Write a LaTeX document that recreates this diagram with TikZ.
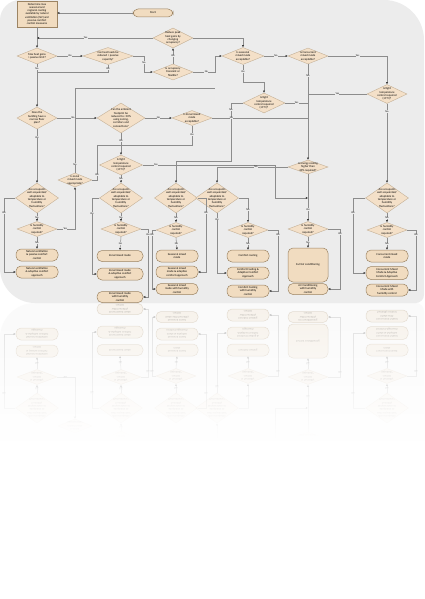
\documentclass[tikz,border=0pt]{standalone}
\usepackage{fontspec}
\setmainfont{Carlito}
\usetikzlibrary{shapes.geometric,arrows.meta,fadings}
\definecolor{bgc}{HTML}{ECECEC}
\definecolor{dfill}{HTML}{F4E0C8}
\definecolor{dbord}{HTML}{C4B096}
\definecolor{tfill}{HTML}{F1DCC0}
\definecolor{tbord}{HTML}{9C8463}
\definecolor{lnc}{HTML}{8C8C8C}
\newcommand\dfont{\fontsize{2.9}{3.3}\selectfont}
\newcommand\lfont{\fontsize{2.6}{3}\selectfont}
\tikzset{
 dia/.style 2 args={shape=diamond, draw=dbord, line width=0.4pt, fill=dfill, minimum width=#1, minimum height=#2, inner sep=-30pt, align=center, font=\dfont},
 term/.style 2 args={shape=rectangle, rounded corners=5pt, draw=tbord, line width=0.5pt, fill=tfill, minimum width=#1, minimum height=#2, inner sep=0pt, align=center, font=\dfont},
 procbox/.style={shape=rectangle, draw=tbord, line width=0.5pt, fill=tfill, minimum width=40, minimum height=26, inner sep=0pt, align=center, font=\dfont},
 conn/.style={draw=lnc, line width=0.55pt},
 arr/.style={conn, -{Latex[length=2.2pt,width=2.2pt,color=black!80]}},
 lab/.style={font=\lfont, fill=bgc, inner sep=0.3pt},
}
\newcommand\occtext{Are occupants\\well acquainted/\\adaptable to\\temperature or\\humidity\\fluctuations?}
\newcommand\tttext{Is tight\\temperature\\control required\\(±1°C)?}
\newcommand\humtext{Is humidity\\control\\required?}
\newcommand\bgshape{%
\fill[bgc] (0,20) .. controls (0,9) and (9,0) .. (20,0) -- (384,0) .. controls (406,0) and (424,18) .. (424,40) -- (424,295) .. controls (424,299.4) and (420,303) .. (416,303) -- (35,303) .. controls (15.75,303) and (0,287.25) .. (0,268) -- cycle;
}
\newcommand\diagbottom{%
\node[dia={34}{14}] (zonapp) at (75,180) {Is zonal\\mixed mode\\appropriate?};
\node[dia={43}{20}] (ttzon) at (121,165) {\tttext};
\node[dia={40}{14}] (energy) at (308,167) {Is energy cooling\\higher than\\40\% required?};
\node[dia={43}{30}] (occA) at (37,198) {\occtext};
\node[dia={43}{30}] (occB) at (121,198) {\occtext};
\node[dia={43}{30}] (occC) at (176,198) {\occtext};
\node[dia={43}{30}] (occD) at (217,198) {\occtext};
\node[dia={43}{30}] (occF) at (387,198) {\occtext};
\node[dia={40}{15}] (humA) at (37,229) {\humtext};
\node[dia={40}{15}] (humB) at (121,229) {\humtext};
\node[dia={40}{15}] (humC) at (176,230) {\humtext};
\node[dia={40}{15}] (humD) at (248,230) {\humtext};
\node[dia={40}{15}] (humE) at (308,229) {\humtext};
\node[dia={40}{15}] (humF) at (387,230) {\humtext};
\node[term={42}{12}] (NVpass) at (37,255) {Natural ventilation\\\& passive comfort\\control};
\node[term={42}{12}] (NVadapt) at (37,272) {Natural ventilation\\\& adaptive comfort\\approach};
\node[term={46}{11}] (zonmm) at (120,256) {Zonal mixed mode};
\node[term={46}{12}] (zonadapt) at (120,274) {Zonal mixed mode\\\& adaptive comfort\\approach};
\node[term={46}{11}] (zonhum) at (120,297) {Zonal mixed mode\\with humidity\\control};
\node[term={42}{12}] (seasmm) at (177,256) {Seasonal mixed\\mode};
\node[term={42}{12}] (seasadapt) at (177,272) {Seasonal mixed\\mode \& adaptive\\comfort approach};
\node[term={42}{11}] (seashum) at (177,289) {Seasonal mixed\\mode with humidity\\control};
\node[term={42}{12}] (comf) at (248,256) {Comfort cooling};
\node[term={42}{12}] (comfadapt) at (248,273) {Comfort Cooling \&\\Adaptive Comfort\\Approach};
\node[term={42}{12}] (comfhum) at (248,291) {Comfort Cooling\\with humidity\\control};
\node[term={40}{34}] (fullac) at (308,265) {Full Air conditioning};
\node[term={40}{11}] (achum) at (308,289) {Air Conditioning\\with humidity\\control};
\node[term={42}{12}] (concmm) at (387,256) {Concurrent mixed\\mode};
\node[term={42}{13}] (concadapt) at (387,273) {Concurrent Mixed\\Mode \& Adaptive\\Comfort Approach};
\node[term={42}{12}] (conchum) at (387,290) {Concurrent Mixed\\Mode with\\humidity control};
\coordinate (c9) at (275,165);
\coordinate (c10) at (275,198);
\coordinate (xA) at (4,0);
\coordinate (xB) at (92,0);
\coordinate (xB2) at (148,0);
\coordinate (xC) at (206,0);
\coordinate (xC2) at (152,0);
\coordinate (xD2) at (278,0);
\coordinate (xE2) at (340,0);
\coordinate (xF) at (353,0);
\coordinate (xF2) at (416,0);
\draw[arr] (humA.east) -- node[lab,pos=0.45]{Yes} (humA.east -| zonapp.south) -- (zonapp.south);
\draw[arr] (ttzon.south) -- node[lab]{No} (occB.north);
\draw[arr] (ttzon.east) -- node[lab,pos=0.1]{Yes} (c9) -- (c10) -- (c10 -| energy.south);
\draw[arr] (energy.west) -- node[lab,pos=0.45]{No} (energy.west -| occD.north) -- (occD.north);
\draw[arr] (energy.south) -- node[lab,pos=0.75]{Yes} (humE.north);
\draw[arr] (occA.west) -- (occA.west -| xA) -- node[lab,pos=0.2]{Yes} (NVadapt.west -| xA) -- (NVadapt.west);
\draw[arr] (occA.south) -- node[lab]{No} (humA.north);
\draw[arr] (humA.south) -- node[lab]{No} (NVpass.north);
\draw[arr] (occB.west) -- (occB.west -| xB) -- node[lab,pos=0.2]{Yes} (zonadapt.west -| xB) -- (zonadapt.west);
\draw[arr] (occB.south) -- node[lab]{No} (humB.north);
\draw[arr] (humB.south) -- node[lab]{No} (zonmm.north);
\draw[arr] (humB.east) -- (humB.east -| xB2) -- node[lab,pos=0.08]{Yes} (zonhum.east -| xB2) -- (zonhum.east);
\draw[arr] (occC.east) -- (occC.east -| xC) -- node[lab,pos=0.2]{Yes} (seasadapt.east -| xC) -- (seasadapt.east);
\draw[arr] (occC.south) -- node[lab]{No} (humC.north);
\draw[arr] (humC.south) -- node[lab]{No} (seasmm.north);
\draw[arr] (humC.west) -- (humC.west -| xC2) -- node[lab,pos=0.08]{Yes} (seashum.west -| xC2) -- (seashum.west);
\draw[arr] (occD.south) -- node[lab,pos=0.1]{Yes} (occD.south |- comfadapt.west) -- (comfadapt.west);
\draw[arr] (occD.east) -- (occD.east -| humD.north) -- node[lab]{No} (humD.north);
\draw[arr] (humD.south) -- node[lab]{No} (comf.north);
\draw[arr] (humD.east) -- (humD.east -| xD2) -- node[lab,pos=0.08]{Yes} (comfhum.east -| xD2) -- (comfhum.east);
\draw[arr] (humE.south) -- node[lab]{No} (fullac.north);
\draw[arr] (humE.east) -- (humE.east -| xE2) -- node[lab,pos=0.08]{Yes} (achum.east -| xE2) -- (achum.east);
\draw[arr] (occF.west) -- (occF.west -| xF) -- node[lab,pos=0.2]{Yes} (concadapt.west -| xF) -- (concadapt.west);
\draw[arr] (occF.south) -- node[lab]{No} (humF.north);
\draw[arr] (humF.south) -- node[lab]{No} (concmm.north);
\draw[arr] (humF.east) -- (humF.east -| xF2) -- node[lab,pos=0.08]{Yes} (conchum.east -| xF2) -- (conchum.east);
}
\newcommand\diagtop{%
\node[procbox] (det) at (37,14) {Determine max\\seasonal and\\regional cooling\\available by natural\\ventilation (NV) and\\passive comfort\\control measures};
\node[term={40}{8}] (start) at (153,13) {Start};
\node[dia={40}{20}] (reduce) at (173,38) {Reduce peak\\heat gains by\\changing\\occupancy?};
\node[dia={40}{16}] (maxhg) at (37,56) {Max heat gains\\> passive limit?};
\node[dia={50}{17}] (canheat) at (108,56) {Can heat loads be\\reduced < passive\\capacity?};
\node[dia={40}{16}] (occ) at (173,72) {Is occupancy\\transient or\\flexible?};
\node[dia={42}{17}] (seas) at (243,56) {Is seasonal\\mixed mode\\acceptable?};
\node[dia={40}{16}] (conc) at (308,56) {Is Concurrent\\mixed mode\\acceptable?};
\node[dia={40}{22}] (narrow) at (37,118) {Does the\\building have a\\narrow floor\\plan?};
\node[dia={48}{30}] (ambient) at (121,118) {Can the ambient\\footprint be\\reduced to <10\%\\using zoning,\\corridors and\\connections?};
\node[dia={40}{15}] (zonacc) at (192,118) {Is Zonal mixed\\mode\\acceptable?};
\node[dia={42}{20}] (ttseas) at (264,103) {\tttext};
\node[dia={40}{19}] (ttconc) at (387,94) {\tttext};
\coordinate (c1) at (108,72);
\coordinate (c2) at (144,56);
\coordinate (c3) at (215,88);
\coordinate (c4) at (243,82);
\coordinate (c5) at (231,161);
\coordinate (c6) at (192,145);
\coordinate (c7) at (75,88);
\coordinate (c8) at (97,145);
\draw[arr] (start.west) -- (start.west -| det.east);
\draw[arr] (det.south) -- (maxhg.north);
\draw[arr] (reduce.west) -- node[lab,pos=0.58]{Yes} (reduce.west -| det.south);
\draw[arr] (reduce.east) -| (seas.north);
\draw[arr] (maxhg.east) -- node[lab]{Yes} (canheat.west);
\draw[arr] (maxhg.south) -- node[lab,pos=0.1]{No} (narrow.north);
\draw[conn] (canheat.south) -- node[lab,pos=0.55]{Yes} (c1) -- (c1 -| maxhg.south);
\draw[arr] (canheat.east) -- (canheat.east -| c2) -- node[lab,pos=0.4]{No} (c2 |- occ.west) -- (occ.west);
\draw[arr] (occ.north) -- node[lab]{Yes} (reduce.south);
\draw[arr] (occ.east) -- node[lab,pos=0.6]{No} (occ.east -| c3) -- (c3 |- seas.west) -- (seas.west);
\draw[arr] (seas.east) -- node[lab]{No} (conc.west);
\draw[arr] (seas.south) -- node[lab,pos=0.4]{Yes} (c4) -| (ttseas.north);
\draw[arr] (conc.east) -| node[lab,pos=0.25]{Yes} (ttconc.north);
\draw[arr] (conc.south) -- node[lab,pos=0.12]{No} (energy.north);
\draw[conn] (ttconc.west) -- node[lab]{Yes} (ttconc.west -| conc.south);
\draw[arr] (ttconc.south) -- node[lab,pos=0.1]{No} (occF.north);
\draw[conn] (ttseas.east) -- node[lab]{Yes} (ttseas.east -| conc.south);
\draw[arr] (ttseas.west) -- (ttseas.west -| c5) -- node[lab,pos=0.12]{No} (c5) -| (occC.north);
\draw[arr] (narrow.east) -- node[lab,pos=0.4]{No} (ambient.west);
\draw[arr] (narrow.south) -- node[lab,pos=0.15]{Yes} (occA.north);
\draw[arr] (ambient.south) -- node[lab,pos=0.35]{Yes} (ttzon.north);
\draw[arr] (ambient.east) -- node[lab]{No} (zonacc.west);
\draw[conn] (zonacc.south) -- node[lab,pos=0.45]{Yes} (c6) -- (c6 -| ambient.south);
\draw[conn] (zonacc.east) -- node[lab,pos=0.2]{No} (zonacc.east -| conc.south);
\draw[conn] (zonapp.north) -- node[lab,pos=0.1]{No} (c7) -- (c7 -| c3) -- (c3);
\draw[conn] (zonapp.east) -- (zonapp.east -| c8) -- node[lab,pos=0.15]{Yes} (c8) -- (c8 -| ambient.south);
}
\begin{document}
\begin{tikzpicture}[x=1pt,y=-1pt]
\useasboundingbox (0,0) rectangle (424,599);
\fill[white] (0,0) rectangle (424,599);
\bgshape
\diagbottom
\diagtop
\begin{scope}
\clip (0,303) rectangle (424,440);
\begin{scope}[shift={(0,606)}, yscale=-1, transform shape, opacity=0.25]
\bgshape
\diagbottom
\end{scope}
\end{scope}
\fill[white, path fading=north] (0,303) rectangle (424,441);
\end{tikzpicture}
\end{document}
